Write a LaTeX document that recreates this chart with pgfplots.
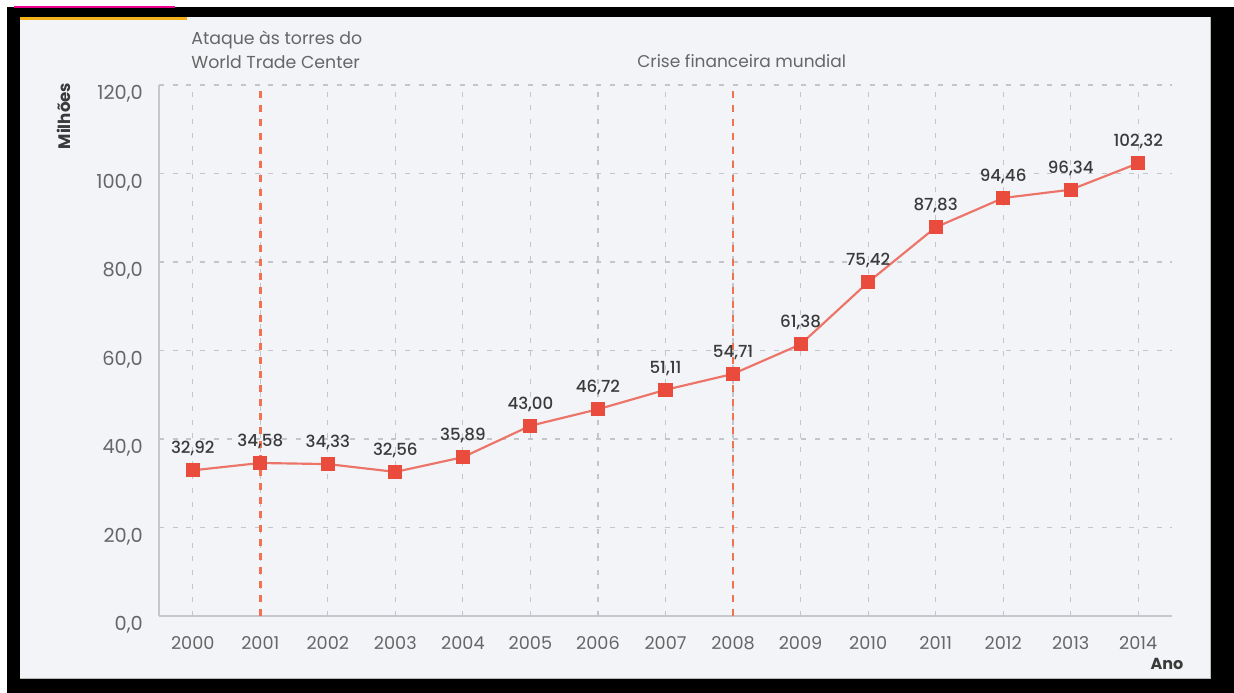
\documentclass[border=0pt]{standalone}
\usepackage{fontspec}
\setmainfont{Poppins}
\newfontfamily\medfont{Poppins Medium}
\usepackage{pgfplots}
\pgfplotsset{compat=1.18}

\definecolor{panel}{HTML}{F3F4F8}
\definecolor{axisgray}{HTML}{C6C7CC}
\definecolor{gridgray}{HTML}{C4C5CA}
\definecolor{ticktext}{HTML}{666666}
\definecolor{valtext}{HTML}{3A3A3A}
\definecolor{linered}{HTML}{EC7468}
\definecolor{markred}{HTML}{E94B3C}
\definecolor{eventred}{HTML}{F2714E}
\definecolor{topbar}{HTML}{F6B21B}

% passageiros por ano (milhoes)
\pgfplotstableread{
idx ano valor
0 2000 32.92
1 2001 34.58
2 2002 34.33
3 2003 32.56
4 2004 35.89
5 2005 43.00
6 2006 46.72
7 2007 51.11
8 2008 54.71
9 2009 61.38
10 2010 75.42
11 2011 87.83
12 2012 94.46
13 2013 96.34
14 2014 102.32
}\passageiros

\begin{document}
\begin{tikzpicture}[x=0.6pt,y=0.6pt]
% moldura
\fill[white] (0,0) rectangle (1234,693);
\fill[black] (7,0) rectangle (1234,686);
\fill[panel] (20,14) rectangle (1211,676);
\draw[gray!55, line width=0.8pt] (20,14.4) -- (1210.6,14.4) -- (1210.6,676);
\fill[topbar] (20,673) rectangle (187,676);
\fill[magenta] (14,684.5) rectangle (175,686.5);

\begin{axis}[
  at={(95.4pt,46.2pt)}, anchor=south west,
  scale only axis, width=607.8pt, height=318.6pt,
  xmin=-0.5, xmax=14.5, ymin=0, ymax=120,
  axis x line*=bottom, axis y line*=left,
  axis line style={draw=axisgray, line width=1.1pt, -},
  xtick={0,...,14},
  xticklabels={2000,2001,2002,2003,2004,2005,2006,2007,2008,2009,2010,2011,2012,2013,2014},
  ytick={0,20,...,120},
  major tick length=0pt,
  grid=major,
  major grid style={draw=gridgray, line width=0.65pt, dash pattern=on 3pt off 5.2pt},
  /pgf/number format/assume math mode=true,
  yticklabel={\pgfmathprintnumber[fixed,fixed zerofill,precision=1,use comma]{\tick}},
  yticklabel style={font=\fontsize{11.6}{13}\selectfont, text=ticktext, anchor=east, inner sep=0pt, xshift=-9.5pt, yshift=-5.5pt},
  xticklabel style={font=\fontsize{10.6}{12}\selectfont, text=ticktext, anchor=north, inner sep=0pt, yshift=-12pt},
  clip=false,
]
% eventos
\addplot[eventred, line width=1.5pt, dash pattern=on 4pt off 4.4pt] coordinates {(1,0) (1,120)};
\addplot[eventred, line width=1.5pt, dash pattern=on 4pt off 4.4pt] coordinates {(8,0) (8,120)};
% serie
\addplot[
  linered, line width=1.3pt,
  mark=square*, mark size=3.9pt,
  mark options={fill=markred, draw=markred, line width=0pt},
  point meta=explicit,
  nodes near coords={\pgfmathprintnumber[fixed,fixed zerofill,precision=2,use comma,assume math mode=true]{\pgfplotspointmeta}},
  every node near coord/.append style={font=\medfont\fontsize{10}{11}\selectfont, text=valtext, anchor=south, inner sep=0pt, yshift=8.5pt},
] table[x=idx, y=valor, meta=valor] {\passageiros};
\end{axis}

% textos
\node[anchor=west, text=ticktext, font=\fontsize{10.4}{12}\selectfont, inner sep=0pt] at (191,653) {Ataque às torres do};
\node[anchor=west, text=ticktext, font=\fontsize{10.4}{12}\selectfont, inner sep=0pt] at (191,631) {World Trade Center};
\node[anchor=west, text=ticktext, font=\fontsize{10.2}{12}\selectfont, inner sep=0pt] at (637,632) {Crise financeira mundial};
\node[rotate=90, text=valtext, font=\bfseries\fontsize{10}{11}\selectfont, inner sep=0pt] at (64,577) {Milhões};
\node[text=valtext, font=\bfseries\fontsize{9.6}{11}\selectfont, inner sep=0pt] at (1167,29) {Ano};
\end{tikzpicture}
\end{document}
